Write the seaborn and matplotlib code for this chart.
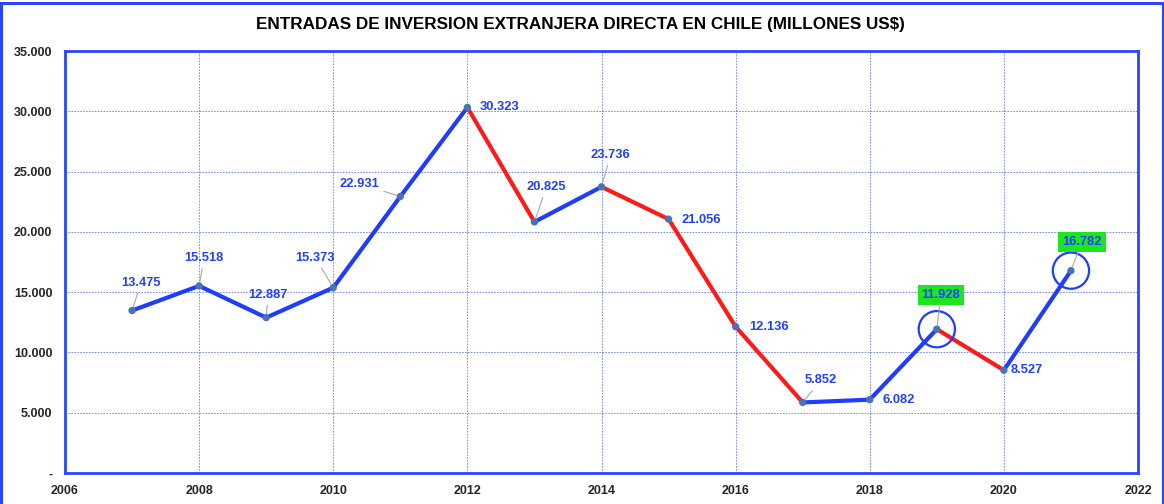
import numpy as np
import pandas as pd
import matplotlib
matplotlib.use('Agg')
import matplotlib.pyplot as plt
import matplotlib.ticker as mticker
from matplotlib.patches import Rectangle
import seaborn as sns

#-----------------------------------------------------------------------
# datos
#-----------------------------------------------------------------------
years = [2007, 2008, 2009, 2010, 2011, 2012, 2013, 2014,
         2015, 2016, 2017, 2018, 2019, 2020, 2021]
ied = [13475, 15518, 12887, 15373, 22931, 30323, 20825, 23736,
       21056, 12136, 5852, 6082, 11928, 8527, 16782]
# color de cada tramo (sube = azul, baja = rojo)
seg_colors = ['b', 'b', 'b', 'b', 'b', 'r', 'b', 'r',
              'r', 'r', 'b', 'b', 'r', 'b']
highlight_years = [2019, 2021]

# posicion de etiquetas (offset en px) y si llevan linea guia
label_offsets = [(9, 28), (5, 28), (2, 23), (-18, 30), (-41, 13), (32, 0), (12, 35), (9, 32),
                 (33, -1), (33, 0), (18, 22), (29, 0), (4, 34), (23, 0), (11, 29)]
label_leader = [True, True, True, True, True, False, True, True,
                False, False, True, False, True, False, True]

BLUE = '#1f3cff'
RED = '#ff1a1a'
TXT = '#2040ff'

df = pd.DataFrame({'year': years, 'ied': ied})

sns.set_style('white')
plt.rcParams['font.family'] = ['Liberation Sans', 'DejaVu Sans']

fig = plt.figure(figsize=(11.64, 5.04), dpi=100)
ax = fig.add_axes([65/1164, 1-473/504, (1138-65)/1164, (473-51)/504])

# borde de la figura
fig.patches.append(Rectangle((0.0008, -0.01), 0.998, 1.005, transform=fig.transFigure,
                             fill=False, edgecolor='#2a45ff', linewidth=2.2))

# tramos de la linea
for i in range(len(years) - 1):
    c = BLUE if seg_colors[i] == 'b' else RED
    sns.lineplot(x=years[i:i+2], y=ied[i:i+2], color=c, linewidth=3.0, ax=ax,
                 solid_capstyle='round', zorder=3)

sns.scatterplot(data=df, x='year', y='ied', color='#4a72b8', s=28, edgecolor='none',
                ax=ax, zorder=4)

# circulos destacados
hl = df[df['year'].isin(highlight_years)]
ax.scatter(hl['year'], hl['ied'], s=680, facecolors='none', edgecolors=BLUE,
           linewidths=1.6, zorder=5)

# etiquetas
px2pt = 0.72
for yr, v, (dx, dy), lead in zip(years, ied, label_offsets, label_leader):
    txt = f"{v:,}".replace(',', '.')
    bbox = None
    if yr in highlight_years:
        bbox = dict(boxstyle='square,pad=0.3', facecolor='#1ee61e', edgecolor='none')
    arrow = None
    if lead:
        arrow = dict(arrowstyle='-', color='#a8a8a8', linewidth=0.8, shrinkA=1, shrinkB=3)
    ax.annotate(txt, xy=(yr, v), xytext=(dx*px2pt, dy*px2pt), textcoords='offset points',
                ha='center', va='center', color=TXT, fontsize=9.3, fontweight='bold',
                bbox=bbox, arrowprops=arrow, zorder=6)

ax.set_xlim(2006, 2022)
ax.set_ylim(0, 35000)
ax.set_xticks(np.arange(2006, 2023, 2))
ax.set_yticks(np.arange(0, 35001, 5000))
ax.yaxis.set_major_formatter(mticker.FuncFormatter(
    lambda v, p: '-' if v == 0 else f"{v:,.0f}".replace(',', '.')))
ax.tick_params(length=0, labelsize=9, pad=9)
for lab in ax.get_xticklabels() + ax.get_yticklabels():
    lab.set_fontweight('bold')
ax.set_xlabel('')
ax.set_ylabel('')

ax.grid(True, color='#3050ff', linestyle=(0, (2, 1.5)), linewidth=0.6, alpha=0.75)
ax.set_axisbelow(True)
for s in ax.spines.values():
    s.set_color('#2a45ff')
    s.set_linewidth(2)

fig.text(580/1164, 1-25/504, 'ENTRADAS DE INVERSION EXTRANJERA DIRECTA EN CHILE (MILLONES US$)',
         ha='center', va='center', fontsize=12.3, fontweight='bold', color='black')

plt.savefig('out.png', dpi=100)
